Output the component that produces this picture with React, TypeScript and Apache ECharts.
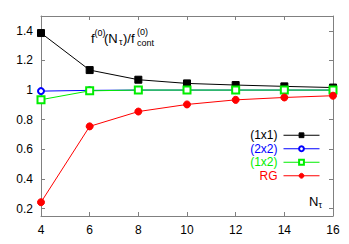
import React, { useEffect, useRef } from "react";
import * as echarts from "echarts";

const nTau = [4, 6, 8, 10, 12, 14, 16];
const s1x1 = [1.385, 1.135, 1.07, 1.045, 1.034, 1.025, 1.017];
const s2x2 = [0.993, 0.998, 1.0, 1.0, 1.0, 1.0, 1.0];
const s1x2 = [0.935, 0.995, 1.0, 1.0, 1.0, 1.0, 1.0];
const sRG = [0.243, 0.755, 0.855, 0.903, 0.934, 0.95, 0.962];
const yTicks = [0.2, 0.4, 0.6, 0.8, 1, 1.2, 1.4];

const FONT = "Liberation Sans, Arial, sans-serif";

export default function App() {
  const ref = useRef<HTMLDivElement>(null);
  useEffect(() => {
    if (!ref.current) return;
    const chart = echarts.init(ref.current, null, { renderer: "svg" });
    const mk = (v: number[]) => nTau.map((x, i) => [x, v[i]]);
    const axisLine = { show: true, lineStyle: { color: "#808080", width: 1 } };
    const tick = { show: true, inside: true, length: 4, lineStyle: { color: "#808080" } };
    const series = [
      { name: "(1x1)", data: mk(s1x1), color: "#000000", symbol: "rect", size: 7 },
      { name: "(2x2)", data: mk(s2x2), color: "#0000ff", symbol: "emptyCircle", size: 6 },
      { name: "(1x2)", data: mk(s1x2), color: "#00ee00", symbol: "emptyRect", size: 7 },
      { name: "RG", data: mk(sRG), color: "#ff0000", symbol: "circle", size: 7 },
    ];
    const txt = (text: string, x: number, y: number, size: number) => ({
      type: "text",
      x,
      y,
      style: { text, fontSize: size, fontFamily: FONT, fill: "#000", textVerticalAlign: "middle" },
    });
    chart.setOption({
      animation: false,
      grid: { left: 41, right: 16, top: 16, bottom: 28, show: false },
      xAxis: [
        {
          type: "value", min: 4, max: 16, interval: 2,
          axisLine, axisTick: tick, splitLine: { show: false },
          axisLabel: { color: "#000", fontSize: 12, fontFamily: FONT, margin: 8 },
        },
        {
          type: "value", min: 4, max: 16, interval: 2, position: "top",
          axisLine, axisTick: tick, splitLine: { show: false }, axisLabel: { show: false },
        },
      ],
      yAxis: [
        {
          type: "value", min: 0.15, max: 1.5,
          axisLine, splitLine: { show: false },
          axisTick: { ...tick, customValues: yTicks },
          axisLabel: {
            color: "#000", fontSize: 12, fontFamily: FONT, margin: 8,
            customValues: yTicks, formatter: (v: number) => String(v),
          },
        },
        {
          type: "value", min: 0.15, max: 1.5, position: "right",
          axisLine, splitLine: { show: false },
          axisTick: { ...tick, customValues: yTicks }, axisLabel: { show: false },
        },
      ],
      legend: {
        orient: "vertical",
        right: 29,
        top: 128.5,
        padding: 0,
        align: "right",
        itemWidth: 36,
        itemHeight: 6,
        itemGap: 0,
        lineStyle: { width: 1 },
        itemStyle: { borderWidth: 1 },
        textStyle: { fontSize: 12, fontFamily: FONT, lineHeight: 13.5, padding: [0, 1, 0, 0] },
        data: series.map((s) => ({ name: s.name, textStyle: { color: s.color } })),
      },
      series: series.map((s) => ({
        type: "line",
        name: s.name,
        data: s.data,
        symbol: s.symbol,
        symbolSize: s.size,
        color: s.color,
        itemStyle: { color: s.color, borderColor: s.color },
        lineStyle: { width: 1, color: s.color },
      })),
      graphic: [
        txt("f", 91, 38, 13),
        txt("(0)", 94.5, 33, 9),
        txt("(N", 104, 38, 13),
        txt("τ", 119, 42, 9),
        txt(")/f", 123, 38, 13),
        txt("(0)", 137, 32, 9),
        txt("cont", 137, 43, 9),
        txt("N", 309, 201, 13),
        txt("τ", 318.5, 205, 9),
      ],
    });
    return () => chart.dispose();
  }, []);
  return (
    <div
      ref={ref}
      style={{ position: "absolute", left: 0, top: 0, width: 349, height: 244 }}
    />
  );
}
